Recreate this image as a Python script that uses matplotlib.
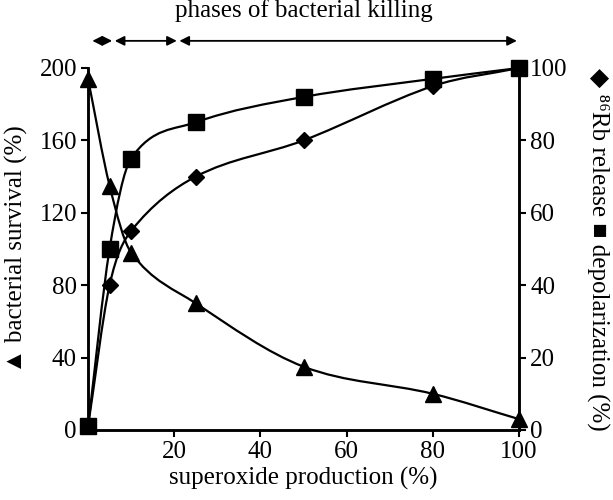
import matplotlib
matplotlib.use("Agg")
import numpy as np
import matplotlib.pyplot as plt
from matplotlib.path import Path
from matplotlib.patches import PathPatch

plt.rcParams['font.family'] = ['Liberation Serif', 'DejaVu Sans']

superoxide = [0, 5, 10, 25, 50, 80, 100]
survival = [194, 135, 98, 70, 35, 20, 6]          # left axis
rb_release = [1, 40, 55, 70, 80, 95, 100]          # right axis
depolarization = [1, 50, 75, 85, 92, 97, 100]      # right axis

phases = [(1, 5.6), (6.2, 20.6), (21.2, 99.5)]

x_ticks = [20, 40, 60, 80, 100]
left_ticks = [0, 40, 80, 120, 160, 200]
right_ticks = [0, 20, 40, 60, 80, 100]


def smooth_path(xs, ys):
    # hermite segments with catmull-rom style tangents, as bezier pieces
    p = np.column_stack([xs, ys]).astype(float)
    n = len(p)
    verts = [p[0]]
    codes = [Path.MOVETO]
    tang = []
    for i in range(n):
        if i == 0:
            tang.append(p[1] - p[0])
        elif i == n - 1:
            tang.append(p[-1] - p[-2])
        else:
            tang.append((p[i + 1] - p[i - 1]) / (p[i + 1, 0] - p[i - 1, 0]))
    for i in range(n - 1):
        h = p[i + 1, 0] - p[i, 0]
        t0 = tang[i] if i == 0 else tang[i] * h
        t1 = tang[i + 1] if i + 1 == n - 1 else tang[i + 1] * h
        verts += [p[i] + t0 / 3, p[i + 1] - t1 / 3, p[i + 1]]
        codes += [Path.CURVE4] * 3
    return Path(verts, codes)


fig = plt.figure(figsize=(6.13, 5), dpi=100)
ax = fig.add_axes([0.1436, 0.14, 0.7031, 0.724])
ax2 = ax.twinx()

ax.set_xlim(0, 100)
ax.set_ylim(0, 200)
ax2.set_ylim(0, 100)

lw = 1.6
ax.add_patch(PathPatch(smooth_path(superoxide, survival), fill=False,
                       lw=lw, color='black', zorder=2))
ax.plot(superoxide, survival, ls='none', marker='^', ms=12, color='black',
        clip_on=False, zorder=3)

ax2.add_patch(PathPatch(smooth_path(superoxide, rb_release), fill=False,
                        lw=lw, color='black', zorder=2))
ax2.add_patch(PathPatch(smooth_path(superoxide, depolarization), fill=False,
                        lw=lw, color='black', zorder=2))
ax2.plot(superoxide, rb_release, ls='none', marker='D', ms=8, color='black',
         clip_on=False, zorder=3)
ax2.plot(superoxide, depolarization, ls='none', marker='s', ms=11, color='black',
         clip_on=False, zorder=4)

for a in (ax, ax2):
    a.spines['top'].set_visible(False)
    for s in a.spines.values():
        s.set_linewidth(1.8)
    a.tick_params(direction='out', length=5, width=1.5, labelsize=18, pad=3)

ax.set_xticks(x_ticks)
ax.set_yticks(left_ticks)
ax2.set_yticks(right_ticks)

ax.set_xlabel('superoxide production (%)', fontsize=18, labelpad=3)
ax.set_ylabel('▲ bacterial survival (%)', fontsize=18, labelpad=8)
ax2.set_ylabel('◆ ⁸⁶Rb release ■ depolarization (%)', fontsize=18,
               rotation=-90, labelpad=30)

# phase arrows above the plot
for x0, x1 in phases:
    ax.annotate('', xy=(x1, 1.075), xytext=(x0, 1.075),
                xycoords=('data', 'axes fraction'),
                textcoords=('data', 'axes fraction'),
                arrowprops=dict(arrowstyle='<|-|>', color='black', lw=1.3,
                                mutation_scale=14, shrinkA=0, shrinkB=0),
                annotation_clip=False)
ax.text(50, 1.16, 'phases of bacterial killing', transform=ax.get_xaxis_transform(),
        ha='center', va='center', fontsize=18)

fig.savefig('out.png', dpi=100)
